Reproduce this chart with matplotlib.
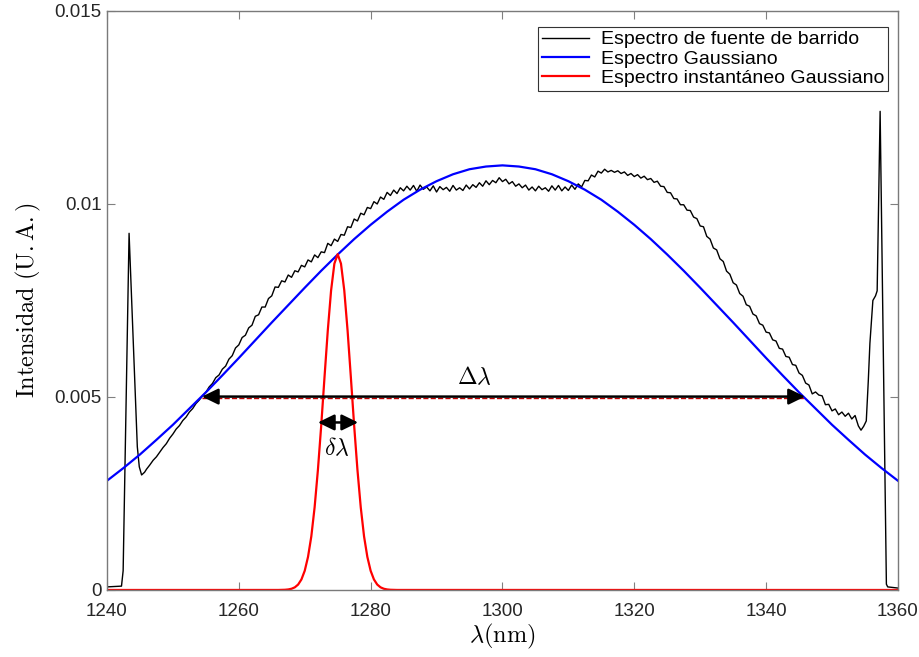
import numpy as np
import matplotlib
matplotlib.use('Agg')
import matplotlib.pyplot as plt

# mathtext in Computer Modern for the axis labels (LaTeX look)
plt.rcParams['mathtext.fontset'] = 'cm'
plt.rcParams['font.family'] = ['Liberation Sans', 'DejaVu Sans']

# ---- data (intensities in 1e-3 U.A.) ----
# swept-source spectrum: left spike, dense part every 0.5 nm, right spike
sweep_x_left = [1240.0, 1242.2, 1242.45, 1243.35, 1244.6, 1244.9, 1245.25, 1245.7]
sweep_y_left = [0.08, 0.10, 0.50, 9.24, 3.71, 3.19, 2.98, 3.05]

sweep_x0 = 1246.0   # first wavelength of the dense part
sweep_dx = 0.5
sweep_y_mid = [
    3.13, 3.24, 3.36, 3.45, 3.57, 3.69, 3.79, 3.93,                      # 1246-1249.5
    4.04, 4.17, 4.26, 4.39, 4.48, 4.61, 4.70, 4.83, 4.92, 5.03,
    5.12, 5.26, 5.35, 5.50, 5.57, 5.72, 5.80, 5.98, 6.07, 6.27,          # 1250-1259.5
    6.35, 6.54, 6.60, 6.79, 6.86, 7.09, 7.13, 7.33, 7.33, 7.55,
    7.62, 7.85, 7.84, 8.01, 7.98, 8.16, 8.10, 8.27, 8.24, 8.41,          # 1260-1269.5
    8.37, 8.55, 8.50, 8.68, 8.61, 8.76, 8.74, 8.98, 8.92, 9.09,
    9.03, 9.21, 9.19, 9.41, 9.39, 9.61, 9.56, 9.76, 9.72, 9.91,          # 1270-1279.5
    9.88, 10.06, 10.00, 10.18, 10.12, 10.30, 10.22, 10.36, 10.27, 10.42,
    10.34, 10.46, 10.36, 10.48, 10.33, 10.49, 10.38, 10.44, 10.34, 10.47,  # 1280-1289.5
    10.31, 10.45, 10.37, 10.43, 10.33, 10.48, 10.36, 10.42, 10.35, 10.49,
    10.39, 10.50, 10.43, 10.55, 10.46, 10.60, 10.50, 10.61, 10.55, 10.68,  # 1290-1299.5
    10.58, 10.64, 10.52, 10.58, 10.46, 10.52, 10.42, 10.49, 10.36, 10.44,
    10.34, 10.46, 10.37, 10.42, 10.33, 10.47, 10.36, 10.48, 10.34, 10.44,  # 1300-1309.5
    10.35, 10.49, 10.38, 10.52, 10.44, 10.61, 10.60, 10.75, 10.70, 10.85,
    10.80, 10.90, 10.83, 10.87, 10.82, 10.86, 10.79, 10.83, 10.74, 10.79,  # 1310-1319.5
    10.71, 10.76, 10.67, 10.72, 10.63, 10.66, 10.56, 10.59, 10.46, 10.45,
    10.30, 10.29, 10.14, 10.13, 9.98, 9.98, 9.84, 9.83, 9.66, 9.62,      # 1320-1329.5
    9.43, 9.41, 9.16, 9.09, 8.86, 8.81, 8.58, 8.51, 8.26, 8.18,
    7.96, 7.90, 7.68, 7.61, 7.39, 7.35, 7.15, 7.10, 6.90, 6.86,          # 1330-1339.5
    6.68, 6.66, 6.48, 6.45, 6.26, 6.24, 6.05, 6.03, 5.84, 5.82,
    5.62, 5.56, 5.36, 5.31, 5.08, 5.13, 5.05, 5.03, 4.80, 4.81,          # 1340-1349.5
    4.64, 4.69, 4.54, 4.61, 4.50, 4.58, 4.43, 4.52, 4.25,                # 1350-1354
]

sweep_x_right = [1354.4, 1354.8, 1355.2, 1355.5, 1355.75, 1356.2, 1356.6, 1356.85,
                 1357.3, 1358.25, 1358.45, 1360.0]
sweep_y_right = [4.14, 4.24, 4.38, 5.40, 6.39, 7.50, 7.62, 7.75,
                 12.40, 0.15, 0.08, 0.05]

# fitted Gaussian spectrum, every 2.5 nm from 1240 to 1360
gauss_x0 = 1240.0
gauss_dx = 2.5
gauss_y = [2.83, 3.16, 3.51, 3.89, 4.28, 4.70, 5.12, 5.56, 6.01, 6.47, 6.93, 7.38,
           7.83, 8.27, 8.69, 9.09, 9.46, 9.80, 10.11, 10.37, 10.59, 10.77, 10.90, 10.97,
           11.00,
           10.97, 10.90, 10.77, 10.59, 10.37, 10.11, 9.80, 9.46, 9.09, 8.69, 8.27, 7.83,
           7.38, 6.93, 6.47, 6.01, 5.56, 5.12, 4.70, 4.28, 3.89, 3.51, 3.16, 2.83]

# instantaneous Gaussian spectrum
inst_x = [1240.0, 1266.0, 1267.0, 1267.5, 1268.0, 1268.5, 1269.0, 1269.5, 1270.0,
          1270.5, 1271.0, 1271.5, 1272.0, 1272.5, 1273.0, 1273.5, 1274.0, 1274.5,
          1275.0,
          1275.5, 1276.0, 1276.5, 1277.0, 1277.5, 1278.0, 1278.5, 1279.0, 1279.5,
          1280.0, 1280.5, 1281.0, 1281.5, 1282.0, 1282.5, 1283.0, 1284.0, 1360.0]
inst_y = [0.0, 0.0007, 0.0057, 0.014, 0.032, 0.069, 0.141, 0.273, 0.498,
          0.858, 1.39, 2.142, 3.11, 4.256, 5.51, 6.725, 7.76, 8.455,
          8.70,
          8.455, 7.76, 6.725, 5.51, 4.256, 3.11, 2.142, 1.39, 0.858,
          0.498, 0.273, 0.141, 0.069, 0.032, 0.014, 0.0057, 0.0007, 0.0]

# FWHM arrows (start, end, height) and their labels
big_arrow = (1254.4, 1345.9, 5.01)
small_arrow = (1272.0, 1278.1, 4.34)
big_label = (1295.7, 5.49)
small_label = (1274.8, 3.65)

# ---- build series ----
sweep_x = np.concatenate([sweep_x_left,
                          sweep_x0 + sweep_dx * np.arange(len(sweep_y_mid)),
                          sweep_x_right])
sweep_y = np.concatenate([sweep_y_left, sweep_y_mid, sweep_y_right]) * 1e-3
gauss_x = gauss_x0 + gauss_dx * np.arange(len(gauss_y))

fig = plt.figure(figsize=(9.2, 6.57), dpi=100)
ax = fig.add_axes([0.1163, 0.102, 0.8597, 0.8813])

ax.plot(sweep_x, sweep_y, color='k', lw=1.0, label='Espectro de fuente de barrido')
ax.plot(gauss_x, np.array(gauss_y) * 1e-3, color='#0000ff', lw=1.6, label='Espectro Gaussiano')
ax.plot(inst_x, np.array(inst_y) * 1e-3, color='#ff0000', lw=1.6,
        label='Espectro instant\u00e1neo Gaussiano')

# FWHM markers
ax.plot([big_arrow[0], big_arrow[1]], [big_arrow[2] * 1e-3 - 0.00004] * 2,
        color='#c00000', lw=1.0, ls='--', zorder=2)
for a in (big_arrow, small_arrow):
    ax.annotate('', xy=(a[0], a[2] * 1e-3), xytext=(a[1], a[2] * 1e-3),
                arrowprops=dict(arrowstyle='<|-|>,head_length=0.45,head_width=0.22',
                                color='k', lw=1.8, shrinkA=0, shrinkB=0, mutation_scale=22))
ax.text(big_label[0], big_label[1] * 1e-3, r'$\Delta\lambda$', fontsize=17,
        ha='center', va='center')
ax.text(small_label[0], small_label[1] * 1e-3, r'$\delta\lambda$', fontsize=17,
        ha='center', va='center')

ax.set_xlim(1240, 1360)
ax.set_ylim(0, 0.015)
ax.set_xticks(range(1240, 1361, 20))
ax.set_yticks([0, 0.005, 0.01, 0.015])
ax.set_yticklabels(['0', '0.005', '0.01', '0.015'])
ax.tick_params(direction='in', length=5.7, width=0.8, color='#808080', labelcolor='#262626',
               labelsize=13.5, top=True, right=True)
ax.tick_params(axis='x', pad=9.5)
ax.tick_params(axis='y', pad=4)
for s in ax.spines.values():
    s.set_color('#7a7a7a')
    s.set_linewidth(1.0)

ax.set_xlabel(r'$\lambda(\mathrm{nm})$', fontsize=17.5, labelpad=1)
ax.set_ylabel(r'$\mathrm{Intensidad\ (U.A.)}$', fontsize=17.5, labelpad=8)

leg = ax.legend(loc='upper right', bbox_to_anchor=(0.9874, 0.9724), borderaxespad=0,
                fontsize=14, fancybox=False, framealpha=1, edgecolor='#333333',
                handlelength=2.4, handletextpad=0.6, labelspacing=0.08, borderpad=0.2)
leg.get_frame().set_linewidth(0.8)

fig.savefig('out.png', dpi=100)
